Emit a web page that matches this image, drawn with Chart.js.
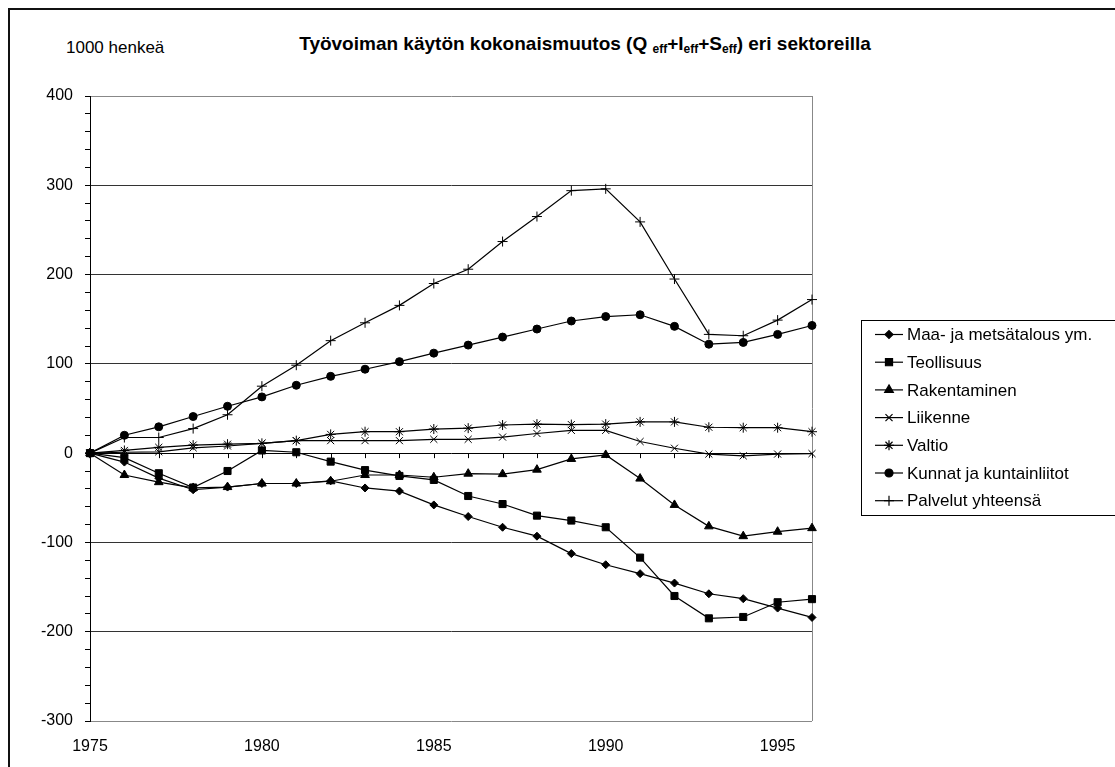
<!DOCTYPE html>
<html lang="fi">
<head>
<meta charset="utf-8">
<title>Työvoiman käytön kokonaismuutos</title>
<script src="https://cdn.jsdelivr.net/npm/chart.js@4.4.1/dist/chart.umd.min.js"></script>
<style>
  html, body { margin: 0; padding: 0; background: #fff; overflow: hidden; }
  #wrap { position: relative; width: 1115px; height: 767px; overflow: hidden; }
  #frame { position: absolute; left: 8px; top: 8px; width: 1200px; height: 900px; border: 2px solid #111; box-sizing: border-box; }
  #title { position: absolute; left: 0; width: 1170px; top: 33px; text-align: center;
           font: bold 19px "Liberation Sans", Arial, sans-serif; color: #000; white-space: nowrap; }
  #title sub { font-size: 12px; vertical-align: -3px; }
  #unit { position: absolute; left: 66px; top: 38px; font: 17px "Liberation Sans", Arial, sans-serif; color: #000; }
  canvas { position: absolute; left: 0; top: 0; }
</style>
</head>
<body>
<div id="wrap">
  <div id="frame"></div>
  <div id="title">Työvoiman käytön kokonaismuutos (Q <sub>eff</sub>+I<sub>eff</sub>+S<sub>eff</sub>) eri sektoreilla</div>
  <div id="unit">1000 henkeä</div>
  <canvas id="chart" width="1115" height="767"></canvas>
</div>
<script>
// data, 1975-1996
const years = [1975, 1976, 1977, 1978, 1979, 1980, 1981, 1982, 1983, 1984, 1985,
               1986, 1987, 1988, 1989, 1990, 1991, 1992, 1993, 1994, 1995, 1996];
const xTickYears = [1975, 1980, 1985, 1990, 1995];

const maa = [0, -10, -28, -41, -38, -34, -34, -31, -39, -42.5, -58, -71,
             -83, -93, -112.5, -125, -135, -145.5, -157.5, -163, -173.5, -184];
const teollisuus = [0, -5, -22.5, -38.5, -20, 3, 1, -9.5, -19, -25.5, -30, -48,
                    -57, -70, -75.5, -83, -117, -160, -185, -183.5, -167, -163.5];
const rakentaminen = [0, -24.5, -32.5, -39, -38, -34, -34, -31.5, -24.5, -24.5, -27, -23,
                      -23.5, -18.5, -6.5, -2, -28.5, -58, -82, -93, -88, -84];
const liikenne = [0, 1, 1.5, 6, 8, 11, 14, 14, 14, 14, 15.5, 15.5,
                  18, 22, 25.5, 25.5, 13, 5.5, -1, -3, -1, -0.5];
const valtio = [0, 3, 6.5, 9, 10, 11, 14, 21, 24, 24, 27, 28,
                31.5, 32.5, 32, 32.5, 35, 35, 29, 28.5, 28.5, 24];
const kunnat = [0, 20, 29.5, 41, 52.5, 63, 76, 86, 94, 102.5, 112, 121,
                130, 139, 148, 153, 155, 142, 122, 124, 133, 143];
const palvelut = [0, 17.5, 17.5, 27.5, 43, 75, 98.5, 126, 146, 165.5, 190, 206,
                  237, 265, 294, 296, 259, 195, 133, 131.5, 149, 172];

const seriesNames = ["Maa- ja metsätalous ym.", "Teollisuus", "Rakentaminen", "Liikenne",
                     "Valtio", "Kunnat ja kuntainliitot", "Palvelut yhteensä"];
const seriesValues = [maa, teollisuus, rakentaminen, liikenne, valtio, kunnat, palvelut];
const markerStyles = ["rectRot", "rect", "triangle", "crossRot", "star", "circle", "cross"];
const markerSizes = [4, 5, 5, 5, 5, 4, 5];

const FONT = '"Liberation Sans", Arial, sans-serif';
Chart.defaults.font.family = FONT;
Chart.defaults.color = "#000";

function gridColor(v) {
  if (v === 0) return "#000";
  if (v === 400 || v === -300) return "#888";
  if (v % 100 === 0) return "#333";
  return "rgba(0,0,0,0)";
}

// category tick marks along the zero line + gray right border of plot area
const axisExtras = {
  id: "axisExtras",
  beforeDatasetsDraw(chart) {
    const { ctx, chartArea, scales } = chart;
    const y0 = scales.y.getPixelForValue(0);
    ctx.save();
    ctx.strokeStyle = "#888";
    ctx.lineWidth = 1;
    ctx.beginPath();
    ctx.moveTo(Math.round(chartArea.right) + 0.5, chartArea.top);
    ctx.lineTo(Math.round(chartArea.right) + 0.5, chartArea.bottom);
    ctx.stroke();
    ctx.strokeStyle = "#000";
    ctx.beginPath();
    years.forEach((yr) => {
      const x = Math.round(scales.x.getPixelForValue(yr)) + 0.5;
      ctx.moveTo(x, y0);
      ctx.lineTo(x, y0 + 5);
    });
    ctx.stroke();
    ctx.restore();
  },
};

// boxed legend on the right, line + marker like the original
const boxLegend = {
  id: "boxLegend",
  afterDraw(chart) {
    const { ctx } = chart;
    const left = 861.5, top = 320.5, bottom = 515.5;
    ctx.save();
    ctx.fillStyle = "#fff";
    ctx.fillRect(left, top, 400, bottom - top);
    ctx.strokeStyle = "#000";
    ctx.lineWidth = 1;
    ctx.strokeRect(left, top, 400, bottom - top);
    ctx.font = "17px " + FONT;
    ctx.textBaseline = "middle";
    chart.data.datasets.forEach((ds, i) => {
      const y = 334.5 + i * 27.7;
      ctx.strokeStyle = "#000";
      ctx.fillStyle = "#000";
      ctx.lineWidth = 1.2;
      ctx.beginPath();
      ctx.moveTo(875, y);
      ctx.lineTo(903, y);
      ctx.stroke();
      Chart.helpers.drawPoint(ctx, {
        pointStyle: ds.pointStyle, radius: ds.pointRadius, borderWidth: 1, rotation: 0,
      }, 889, y);
      ctx.fillStyle = "#000";
      ctx.fillText(ds.label, 907, y + 1);
    });
    ctx.restore();
  },
};

const datasets = seriesNames.map((name, i) => ({
  label: name,
  data: years.map((yr, j) => ({ x: yr, y: seriesValues[i][j] })),
  borderColor: "#000",
  backgroundColor: "#000",
  borderWidth: 1.2,
  pointStyle: markerStyles[i],
  pointRadius: markerSizes[i],
  pointBorderWidth: 1,
  pointBackgroundColor: "#000",
  pointBorderColor: "#000",
  tension: 0,
  clip: false,
}));

new Chart(document.getElementById("chart"), {
  type: "line",
  data: { datasets },
  plugins: [axisExtras, boxLegend],
  options: {
    responsive: false,
    devicePixelRatio: 1,
    animation: false,
    layout: { padding: { left: 0, top: 96, right: 303, bottom: 0 } },
    plugins: { legend: { display: false }, tooltip: { enabled: false } },
    scales: {
      x: {
        type: "linear",
        min: 1975,
        max: 1996,
        afterBuildTicks: (s) => { s.ticks = xTickYears.map((v) => ({ value: v })); },
        ticks: { color: "#000", font: { size: 16 }, padding: 16, maxRotation: 0, autoSkip: false,
                 callback: (v) => String(v) },
        grid: { display: false, drawTicks: false },
        border: { display: false },
        afterFit: (s) => { s.height = 46; },
      },
      y: {
        min: -300,
        max: 400,
        ticks: { stepSize: 20, autoSkip: false, color: "#000", font: { size: 16 }, padding: 12,
                 callback: (v) => (v % 100 === 0 ? String(v) : "") },
        grid: {
          color: (c) => gridColor(c.tick.value),
          tickColor: "#000",
          tickLength: 5,
          lineWidth: 1,
        },
        border: { display: true, color: "#000", width: 1 },
        afterFit: (s) => { s.width = 90; },
      },
    },
  },
});
</script>
</body>
</html>
